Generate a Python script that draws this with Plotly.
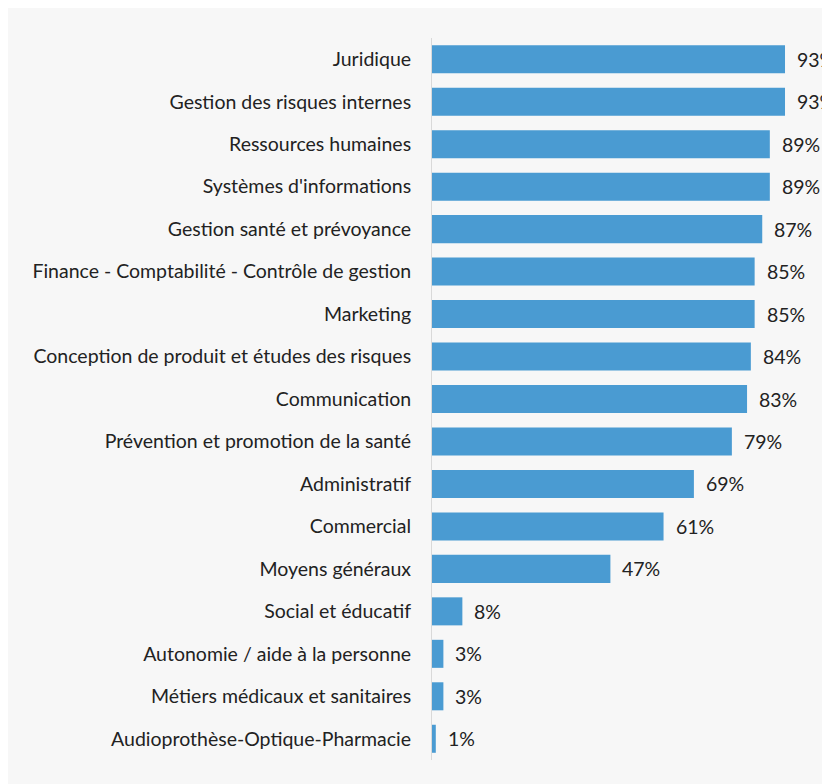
import plotly.graph_objects as go

categories = [
    "Juridique",
    "Gestion des risques internes",
    "Ressources humaines",
    "Systèmes d'informations",
    "Gestion santé et prévoyance",
    "Finance - Comptabilité - Contrôle de gestion",
    "Marketing",
    "Conception de produit et études des risques",
    "Communication",
    "Prévention et promotion de la santé",
    "Administratif",
    "Commercial",
    "Moyens généraux",
    "Social et éducatif",
    "Autonomie / aide à la personne",
    "Métiers médicaux et sanitaires",
    "Audioprothèse-Optique-Pharmacie",
]
values = [93, 93, 89, 89, 87, 85, 85, 84, 83, 79, 69, 61, 47, 8, 3, 3, 1]
value_labels = [f"{v}%" for v in values]

BAR_COLOR = "#4a9bd2"
TEXT_COLOR = "#222222"
FONT = "Lato, Carlito, Open Sans, sans-serif"
FSIZE = 19.5

fig = go.Figure()
fig.add_trace(go.Bar(
    x=values,
    y=categories,
    orientation="h",
    marker=dict(color=BAR_COLOR, line=dict(width=0)),
    hoverinfo="skip",
))

for cat, v, lab in zip(categories, values, value_labels):
    fig.add_annotation(
        x=v, y=cat, text=lab, showarrow=False,
        xanchor="left", xshift=10, yanchor="middle",
        font=dict(family=FONT, size=FSIZE, color=TEXT_COLOR),
    )

fig.update_layout(
    width=830, height=784,
    margin=dict(l=424, r=0, t=30, b=32),
    paper_bgcolor="#f7f7f7",
    plot_bgcolor="rgba(0,0,0,0)",
    bargap=0.34,
    showlegend=False,
    font=dict(family=FONT, size=FSIZE, color=TEXT_COLOR),
    xaxis=dict(range=[0, 106.96], visible=False, fixedrange=True),
    yaxis=dict(
        categoryorder="array", categoryarray=categories[::-1],
        showline=True, linecolor="#d9d9d9", linewidth=1,
        showgrid=False, ticks="", ticklabelstandoff=16,
        tickfont=dict(family=FONT, size=FSIZE, color=TEXT_COLOR),
        fixedrange=True,
    ),
)

fig.write_html("out.html")
